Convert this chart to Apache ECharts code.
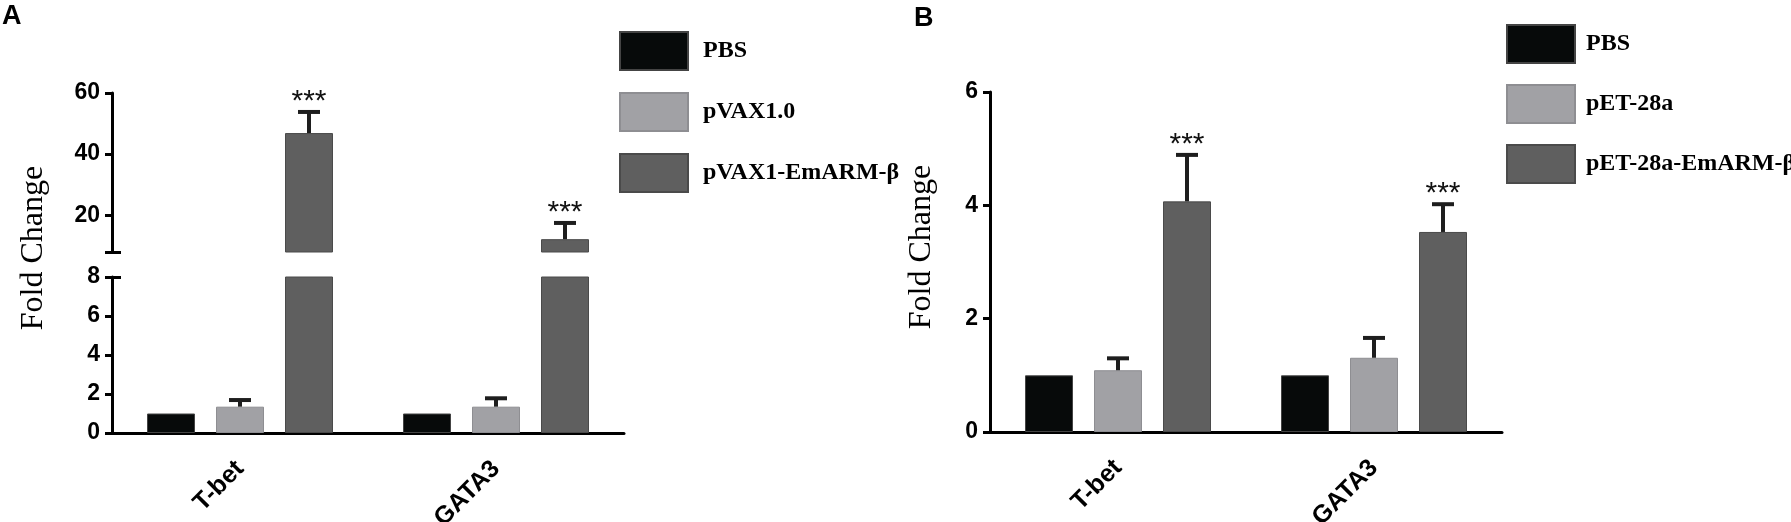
<!DOCTYPE html>
<html>
<head>
<meta charset="utf-8">
<title>Fold Change</title>
<script src="https://cdn.jsdelivr.net/npm/echarts@6/dist/echarts.min.js"></script>
<style>
  html, body { margin: 0; padding: 0; background: #fff; }
  #chart { width: 1791px; height: 522px; }
</style>
</head>
<body>
<div id="chart"></div>
<script>
// categories
const genes = ['T-bet', 'GATA3'];

// panel A (broken axis 0-8 / 8-60)
const groupsA = ['PBS', 'pVAX1.0', 'pVAX1-EmARM-β'];
const pbsA = [1.0, 1.0];
const pbsAErr = [0, 0];
const pvaxA = [1.35, 1.35];
const pvaxAErr = [0.34, 0.43];
const emA = [46.9, 12.2];
const emAErr = [6.9, 5.3];
const sigA = ['***', '***'];
const lowTicksA = [0, 2, 4, 6, 8];
const highTicksA = [20, 40, 60];
const breakA = 8;

// panel B
const groupsB = ['PBS', 'pET-28a', 'pET-28a-EmARM-β'];
const pbsB = [1.0, 1.0];
const pbsBErr = [0, 0];
const petB = [1.09, 1.31];
const petBErr = [0.21, 0.35];
const emB = [4.07, 3.53];
const emBErr = [0.82, 0.49];
const sigB = ['***', '***'];

const colors = ['#070a0a', '#a1a1a5', '#5f5f5f'];
const borders = ['#444', '#8e8e92', '#4a4a4a'];
const BAR_W = 48;
const BAR_GAP = 21;
const SANS = 'Liberation Sans, Arial, sans-serif';
const SERIF = 'Liberation Serif, Times New Roman, serif';

const chart = echarts.init(document.getElementById('chart'));

function catAxis(gridIndex, show) {
  return {
    type: 'category', gridIndex, data: genes, show,
    axisLine: { lineStyle: { color: '#000', width: 3 } },
    axisTick: { alignWithLabel: true, length: 10, lineStyle: { color: '#000', width: 3 } },
    axisLabel: { rotate: 45, margin: 32, color: '#000', fontFamily: SANS, fontWeight: 'bold', fontSize: 25 }
  };
}

function valAxis(gridIndex, min, max, extra) {
  return Object.assign({
    type: 'value', gridIndex, min, max, position: 'left',
    axisLine: { show: true, lineStyle: { color: '#000', width: 3 } },
    axisTick: { show: true, length: 7, lineStyle: { color: '#000', width: 3 } },
    axisLabel: { margin: 12, color: '#000', fontFamily: SANS, fontWeight: 'bold', fontSize: 23 },
    splitLine: { show: false }
  }, extra || {});
}

// short inward tick marking the break
function breakTick(gridIndex, min, max) {
  return {
    type: 'value', gridIndex, min, max, position: 'left',
    axisLine: { show: false },
    axisTick: { show: true, inside: true, length: 9, customValues: [breakA], lineStyle: { color: '#000', width: 3 } },
    axisLabel: { show: false },
    splitLine: { show: false }
  };
}

function bar(name, idx, data, xi, yi) {
  return {
    name, type: 'bar', xAxisIndex: xi, yAxisIndex: yi, data,
    barWidth: BAR_W, barGap: (BAR_GAP / BAR_W * 100) + '%',
    itemStyle: { color: colors[idx], borderColor: borders[idx], borderWidth: 1 },
    clip: true, z: 2
  };
}

function errBars(slot, means, errs, stars, xi, yi) {
  return {
    type: 'custom', xAxisIndex: xi, yAxisIndex: yi, z: 3,
    data: genes.map((g, i) => [i, means[i], errs[i]]),
    encode: { x: 0, y: 1 },
    renderItem(params, api) {
      const cs = params.coordSys;
      const i = api.value(0), m = api.value(1), e = api.value(2);
      const p = api.coord([i, m]);
      const x = p[0] + (slot - 1) * (BAR_W + BAR_GAP);
      const yTop = p[1];
      if (yTop > cs.y + cs.height + 0.5 || yTop < cs.y - 0.5) return null;
      const yCap = api.coord([i, m + e])[1];
      const kids = [];
      if (e > 0) {
        kids.push({ type: 'line', shape: { x1: x, y1: yTop, x2: x, y2: yCap }, style: { stroke: '#1e1e1e', lineWidth: 4 } });
        kids.push({ type: 'line', shape: { x1: x - 11, y1: yCap, x2: x + 11, y2: yCap }, style: { stroke: '#1e1e1e', lineWidth: 4 } });
      }
      if (stars && stars[i]) {
        kids.push({ type: 'text', x, y: yCap + 5, style: { text: stars[i], font: '30px ' + SANS, fill: '#111', align: 'center', verticalAlign: 'bottom' } });
      }
      return { type: 'group', children: kids };
    }
  };
}

const aboveBreak = arr => arr.map(v => (v > breakA ? v : '-'));

const legendStyle = {
  orient: 'vertical', icon: 'rect', itemWidth: 68, itemHeight: 38, padding: 0
};
const legendText = pad => ({ fontFamily: SERIF, fontWeight: 'bold', fontSize: 24, color: '#000', padding: [0, 0, 0, pad] });

chart.setOption({
  animation: false,
  backgroundColor: '#fff',
  grid: [
    { left: 112, top: 93, width: 512, height: 159, outerBoundsMode: 'none' },
    { left: 112, top: 277, width: 512, height: 156, outerBoundsMode: 'none' },
    { left: 990, top: 92, width: 512, height: 340, outerBoundsMode: 'none' }
  ],
  xAxis: [catAxis(0, false), catAxis(1, true), catAxis(2, true)],
  yAxis: [
    valAxis(0, breakA, 60, {
      axisTick: { show: true, length: 7, customValues: [breakA].concat(highTicksA), lineStyle: { color: '#000', width: 3 } },
      axisLabel: { margin: 12, customValues: highTicksA, color: '#000', fontFamily: SANS, fontWeight: 'bold', fontSize: 23 }
    }),
    breakTick(0, breakA, 60),
    valAxis(1, lowTicksA[0], breakA, { interval: 2 }),
    breakTick(1, lowTicksA[0], breakA),
    valAxis(2, 0, 6, { interval: 2 })
  ],
  legend: [
    Object.assign({ left: 619, top: 31, itemGap: 21, data: groupsA, textStyle: legendText(10) }, legendStyle),
    Object.assign({ left: 1506, top: 24, itemGap: 20, data: groupsB, textStyle: legendText(6) }, legendStyle)
  ],
  graphic: [
    { type: 'text', left: 2, top: 3, style: { text: 'A', font: 'bold 27px ' + SANS, fill: '#000' } },
    { type: 'text', left: 914, top: 5, style: { text: 'B', font: 'bold 27px ' + SANS, fill: '#000' } },
    { type: 'text', x: 34, y: 248, rotation: Math.PI / 2, style: { text: 'Fold Change', font: '32px ' + SERIF, fill: '#000', align: 'center', verticalAlign: 'middle' } },
    { type: 'text', x: 922, y: 247, rotation: Math.PI / 2, style: { text: 'Fold Change', font: '32px ' + SERIF, fill: '#000', align: 'center', verticalAlign: 'middle' } }
  ],
  series: [
    // panel A, lower segment
    bar(groupsA[0], 0, pbsA, 1, 2),
    bar(groupsA[1], 1, pvaxA, 1, 2),
    bar(groupsA[2], 2, emA, 1, 2),
    errBars(0, pbsA, pbsAErr, null, 1, 2),
    errBars(1, pvaxA, pvaxAErr, null, 1, 2),
    errBars(2, emA, emAErr, sigA, 1, 2),
    // panel A, upper segment
    bar(groupsA[0], 0, aboveBreak(pbsA), 0, 0),
    bar(groupsA[1], 1, aboveBreak(pvaxA), 0, 0),
    bar(groupsA[2], 2, aboveBreak(emA), 0, 0),
    errBars(2, emA, emAErr, sigA, 0, 0),
    // panel B
    bar(groupsB[0], 0, pbsB, 2, 4),
    bar(groupsB[1], 1, petB, 2, 4),
    bar(groupsB[2], 2, emB, 2, 4),
    errBars(0, pbsB, pbsBErr, null, 2, 4),
    errBars(1, petB, petBErr, null, 2, 4),
    errBars(2, emB, emBErr, sigB, 2, 4)
  ]
});

window.addEventListener('resize', () => chart.resize());
</script>
</body>
</html>
